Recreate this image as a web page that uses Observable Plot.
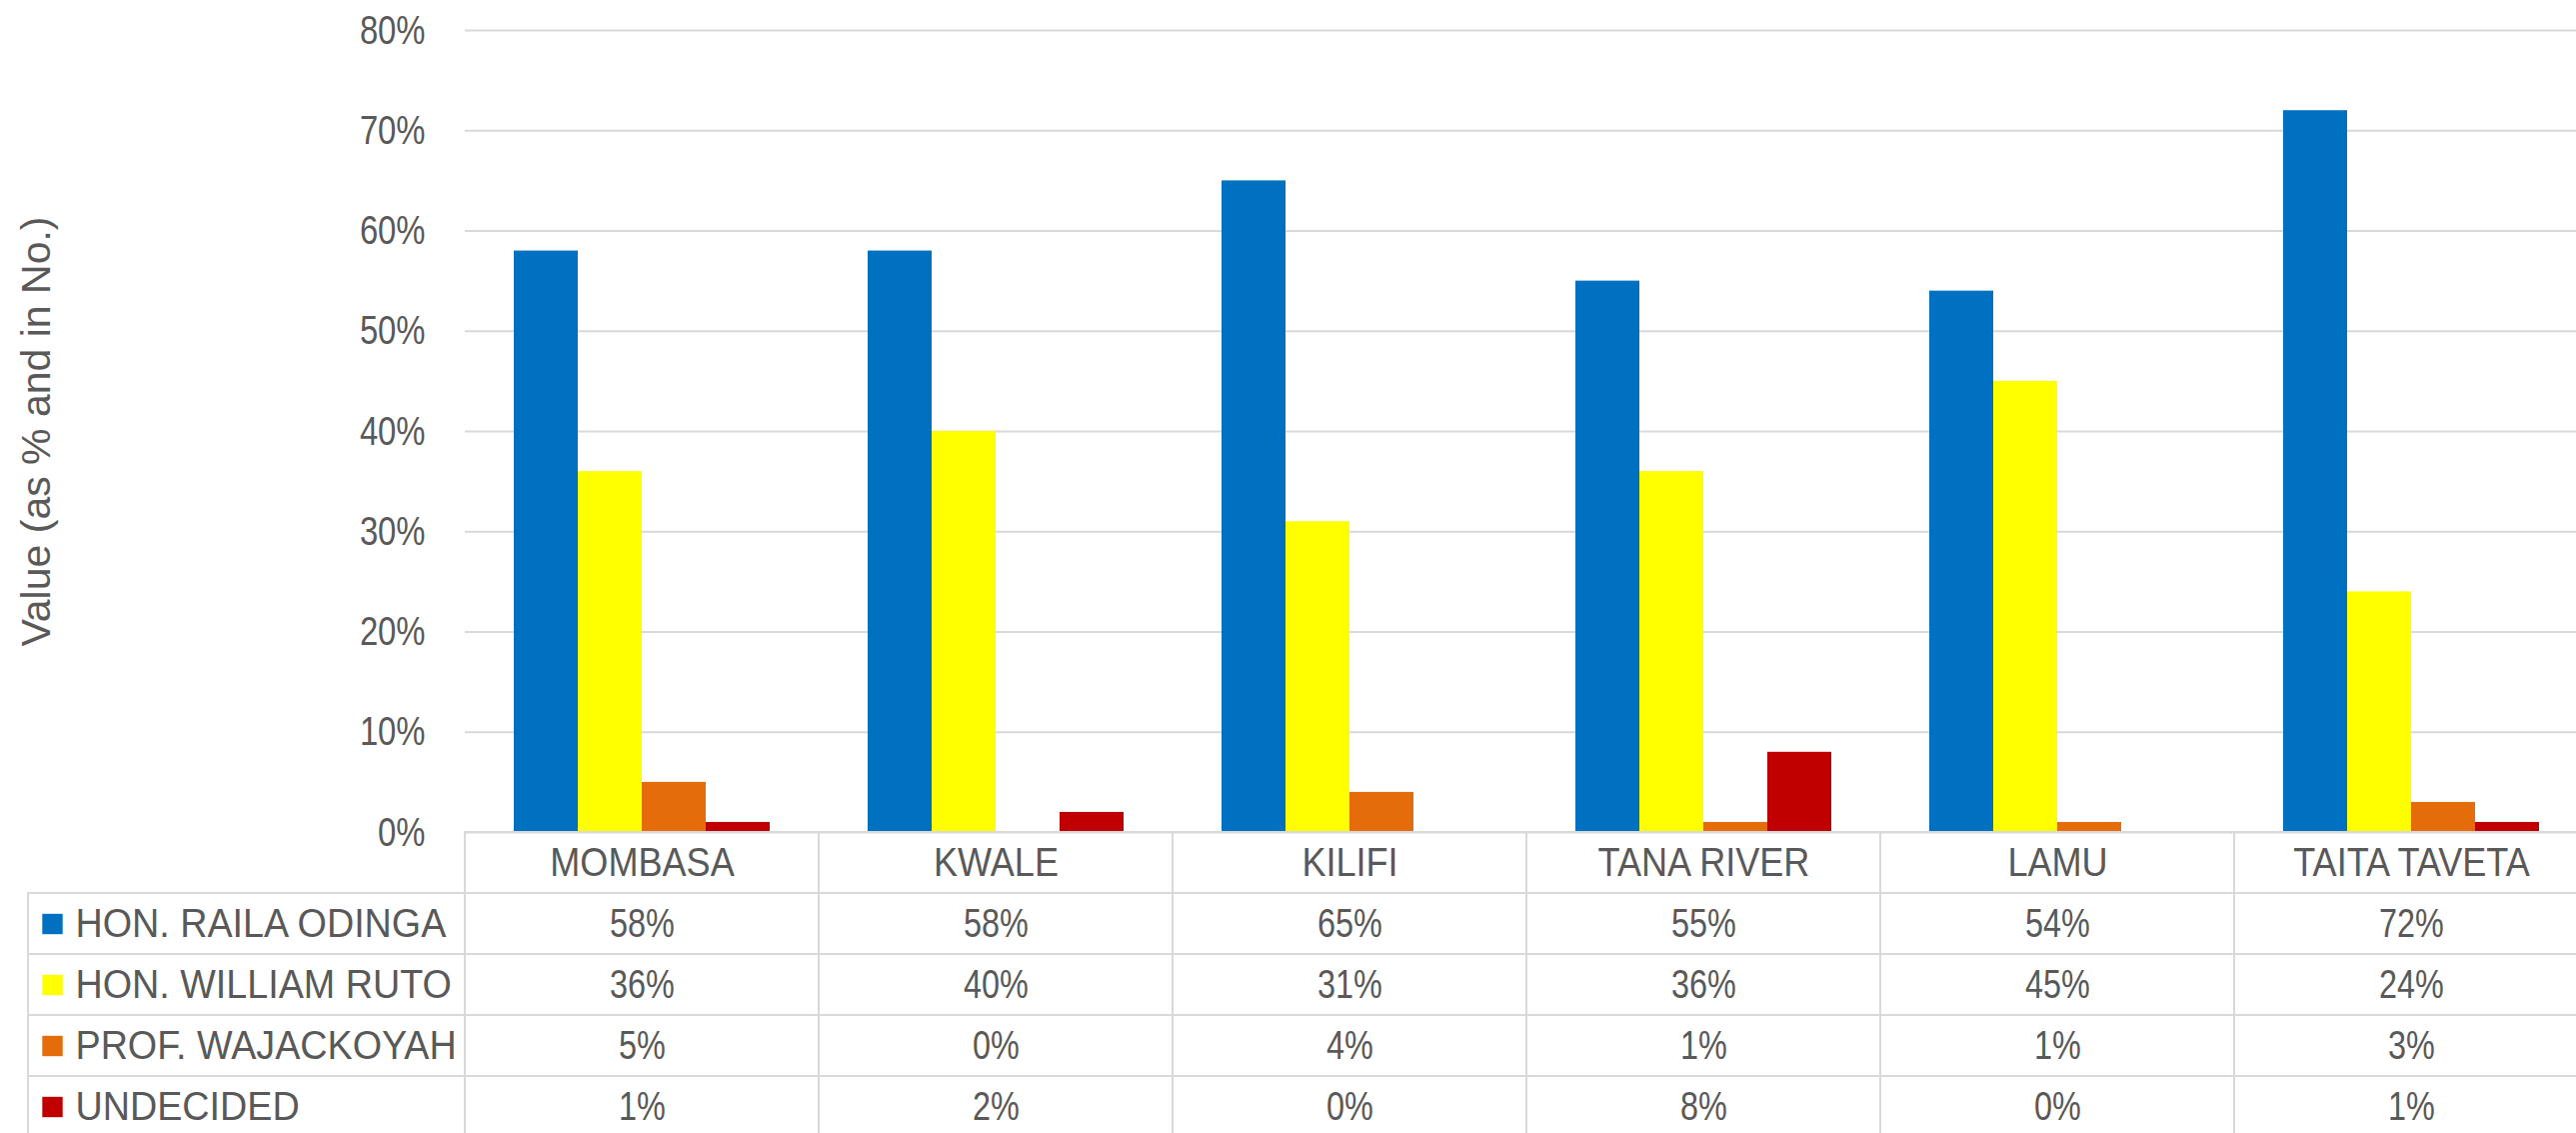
<!DOCTYPE html>
<html>
<head>
<meta charset="utf-8">
<script src="https://cdn.jsdelivr.net/npm/d3@7"></script>
<script src="https://cdn.jsdelivr.net/npm/@observablehq/plot@0.6"></script>
<style>
  html, body { margin: 0; padding: 0; background: #ffffff; overflow: hidden; }
  #wrap { width: 2590px; }
  #wrap svg { display: block; max-width: none !important; }
</style>
</head>
<body>
<div id="wrap"></div>
<script>
// ---- data ----
const counties = ["MOMBASA", "KWALE", "KILIFI", "TANA RIVER", "LAMU", "TAITA TAVETA"];
const series = ["HON. RAILA ODINGA", "HON. WILLIAM RUTO", "PROF. WAJACKOYAH", "UNDECIDED"];
const raila = [58, 58, 65, 55, 54, 72];
const ruto = [36, 40, 31, 36, 45, 24];
const wajackoyah = [5, 0, 4, 1, 1, 3];
const undecided = [1, 2, 0, 8, 0, 1];
const seriesColors = ["#0070C0", "#FFFF00", "#E46C0A", "#C00000"];
const yTicks = [0, 0.1, 0.2, 0.3, 0.4, 0.5, 0.6, 0.7, 0.8];
const yLabel = "Value (as % and in No.)";

// ---- table built from the arrays ----
const valuesBySeries = [raila, ruto, wajackoyah, undecided];
const records = series.flatMap((s, i) =>
  counties.map((c, j) => ({county: c, series: s, value: valuesBySeries[i][j] / 100}))
);
const headerKey = "header";
const tableRows = [headerKey, ...series];
const tableCells = tableRows.flatMap(r => counties.map(c => ({county: c, row: r})));

const pct = d3.format(".0%");
const font = "'Liberation Sans', Arial, sans-serif";
const textColor = "#595959";
const lineColor = "#d9d9d9";

const W = 2590;
const plotLeft = 463;

const chart = Plot.plot({
  width: W,
  height: 832,
  marginTop: 30,
  marginBottom: 0,
  marginLeft: plotLeft,
  marginRight: 0,
  style: {background: "transparent", overflow: "visible", fontFamily: font, fontSize: "41px", color: textColor},
  fx: {domain: counties, padding: 0, axis: null},
  x: {domain: series, paddingInner: 0, paddingOuter: 0.743, axis: null},
  y: {domain: [0, 0.8]},
  color: {domain: series, range: seriesColors},
  marks: [
    Plot.gridY(yTicks, {stroke: lineColor, strokeOpacity: 1, strokeWidth: 2}),
    Plot.barY(records, {fx: "county", x: "series", y: "value", fill: "series"}),
    Plot.axisY(yTicks, {
      tickSize: 0, tickPadding: 40, tickFormat: pct, fill: textColor,
      fontFamily: font, fontSize: 41,
      label: yLabel, labelAnchor: "center", labelArrow: "none", labelOffset: 445
    })
  ]
});

const table = Plot.plot({
  width: W,
  height: 305,
  marginTop: 0,
  marginBottom: 0,
  marginLeft: 28,
  marginRight: 0,
  style: {background: "transparent", overflow: "visible", fontFamily: font, fontSize: "41px", color: textColor},
  x: {domain: counties, range: [plotLeft, W], padding: 0, axis: null},
  y: {domain: tableRows, padding: 0, axis: null},
  color: {domain: series, range: seriesColors},
  marks: [
    Plot.cell(series, {y: d => d, fill: "none", stroke: lineColor, strokeWidth: 2}),
    Plot.cell(tableCells, {x: "county", y: "row", fill: "none", stroke: lineColor, strokeWidth: 2}),
    Plot.text(counties, {x: d => d, y: () => headerKey, text: d => d, fill: textColor}),
    Plot.text(records, {x: "county", y: "series", text: d => pct(d.value), fill: textColor}),
    Plot.text(series, {y: d => d, text: d => d, frameAnchor: "left", dx: 47, textAnchor: "start", fill: textColor}),
    Plot.dot(series, {y: d => d, frameAnchor: "left", dx: 24, symbol: "square", r: 11.5, fill: d => d})
  ]
});

const wrap = document.getElementById("wrap");
wrap.appendChild(chart);
wrap.appendChild(table);

// condensed look of the original typeface: horizontal squeeze around each text's anchor
function squeezeTexts(texts, k) {
  texts.forEach(t => {
    const x = t.getAttribute("x"), y = t.getAttribute("y");
    let tr = t.getAttribute("transform") || "";
    if (x != null || y != null) {
      const xx = +x || 0, yy = +y || 0;
      tr += ` translate(${xx},${yy}) scale(${k},1) translate(${-xx},${-yy})`;
    } else {
      tr += ` scale(${k},1)`;
    }
    t.setAttribute("transform", tr.trim());
  });
}
squeezeTexts(chart.querySelectorAll("g[aria-label='y-axis tick label'] text"), 0.8);
const textGroups = table.querySelectorAll("g[aria-label='text']");
const squeezeFactors = [0.88, 0.79, 0.92]; // county header, values, series labels
textGroups.forEach((g, i) => squeezeTexts(g.querySelectorAll("text"), squeezeFactors[i] ?? 1));

chart.querySelectorAll("g[aria-label='y-axis label'] text").forEach(t => {
  t.style.fontFamily = font;
  t.style.fontSize = "41px";
});
</script>
</body>
</html>
